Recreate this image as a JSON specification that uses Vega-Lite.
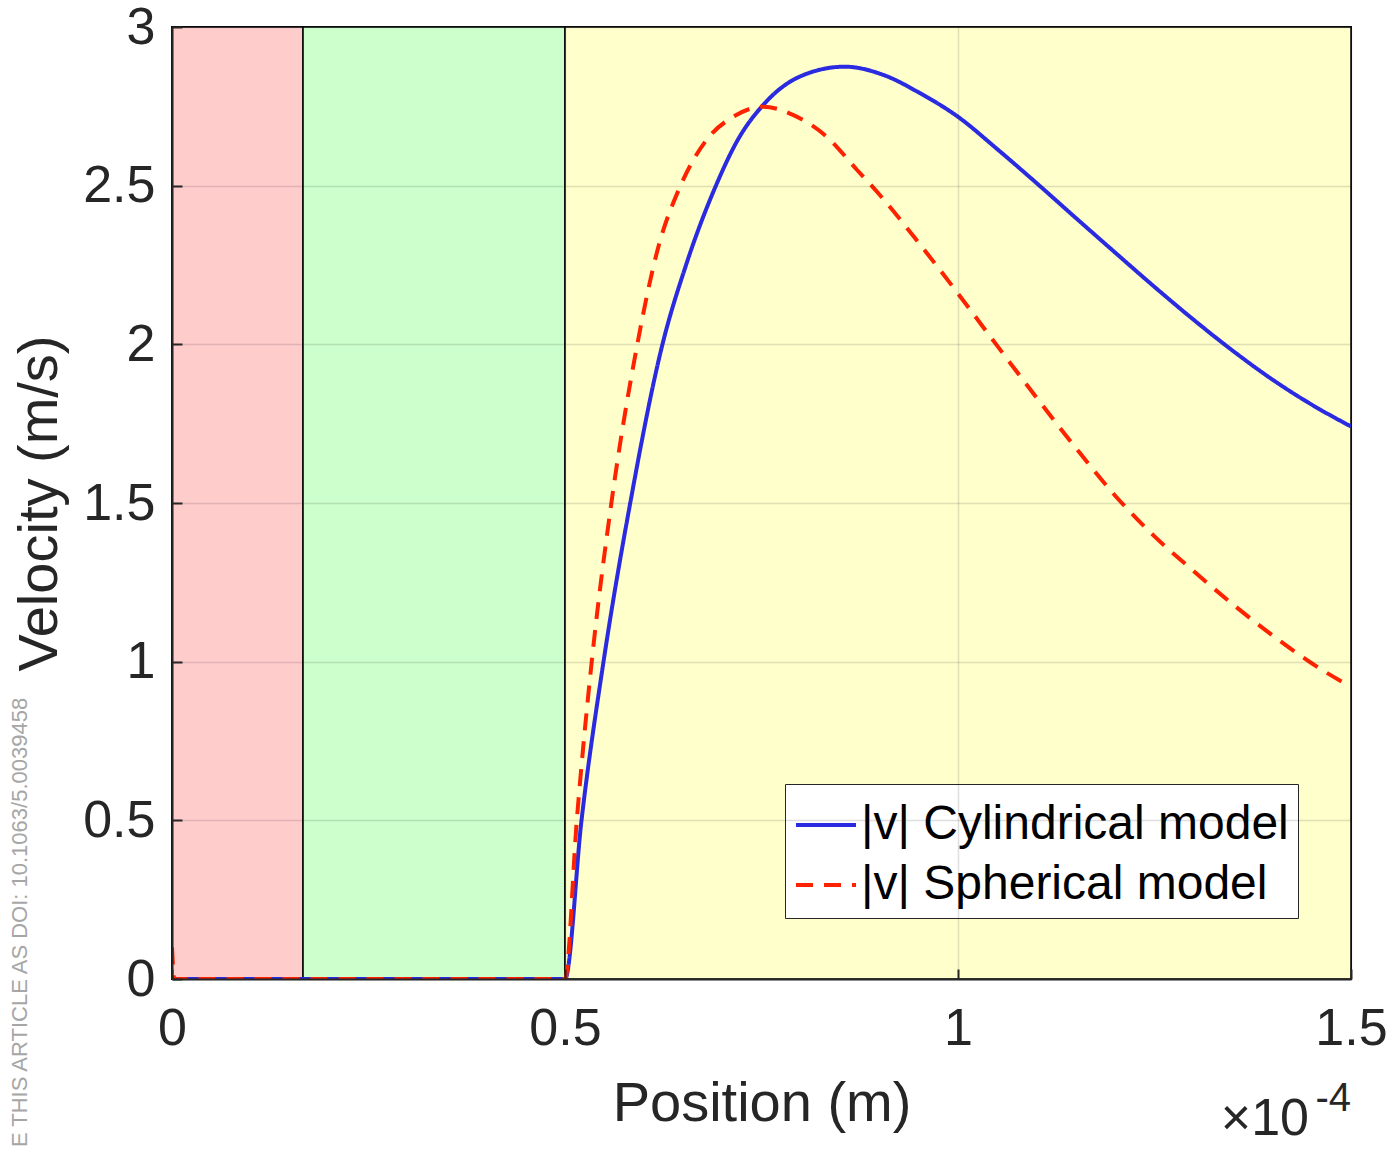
{
  "$schema": "https://vega.github.io/schema/vega-lite/v6.json",
  "width": 1179,
  "height": 952,
  "autosize": {"type": "none"},
  "padding": {"left": 172, "top": 27, "right": 45, "bottom": 170},
  "background": "white",
  "config": {
    "font": "Liberation Sans",
    "view": {"stroke": "#262626", "strokeWidth": 2},
    "axis": {
      "labelFont": "Liberation Sans",
      "titleFont": "Liberation Sans",
      "labelColor": "#262626",
      "titleColor": "#262626",
      "domainColor": "#262626",
      "domainWidth": 2,
      "tickColor": "#262626",
      "tickWidth": 2,
      "gridColor": "#262626",
      "gridOpacity": 0.15,
      "gridWidth": 1.5,
      "labelFontSize": 52,
      "titleFontSize": 56,
      "titleFontWeight": "normal",
      "labelBound": false,
      "labelFlush": false,
      "labelOverlap": false
    }
  },
  "datasets": {
    "regions": [
      {"start": 0, "end": 0.1667, "region": "r1"},
      {"start": 0.1667, "end": 0.5, "region": "r2"},
      {"start": 0.5, "end": 1.5, "region": "r3"}
    ],
    "curves": [
      {"x": 0, "v": 0, "series": "|v| Cylindrical model"},
      {"x": 0.5, "v": 0, "series": "|v| Cylindrical model"},
      {"x": 0.521, "v": 0.5, "series": "|v| Cylindrical model"},
      {"x": 0.549, "v": 1.0, "series": "|v| Cylindrical model"},
      {"x": 0.583, "v": 1.5, "series": "|v| Cylindrical model"},
      {"x": 0.624, "v": 2.0, "series": "|v| Cylindrical model"},
      {"x": 0.654, "v": 2.25, "series": "|v| Cylindrical model"},
      {"x": 0.692, "v": 2.5, "series": "|v| Cylindrical model"},
      {"x": 0.72, "v": 2.645, "series": "|v| Cylindrical model"},
      {"x": 0.752, "v": 2.754, "series": "|v| Cylindrical model"},
      {"x": 0.799, "v": 2.844, "series": "|v| Cylindrical model"},
      {"x": 0.856, "v": 2.875, "series": "|v| Cylindrical model"},
      {"x": 0.905, "v": 2.849, "series": "|v| Cylindrical model"},
      {"x": 0.952, "v": 2.791, "series": "|v| Cylindrical model"},
      {"x": 1.0, "v": 2.717, "series": "|v| Cylindrical model"},
      {"x": 1.05, "v": 2.615, "series": "|v| Cylindrical model"},
      {"x": 1.1, "v": 2.508, "series": "|v| Cylindrical model"},
      {"x": 1.15, "v": 2.398, "series": "|v| Cylindrical model"},
      {"x": 1.2, "v": 2.289, "series": "|v| Cylindrical model"},
      {"x": 1.25, "v": 2.181, "series": "|v| Cylindrical model"},
      {"x": 1.3, "v": 2.077, "series": "|v| Cylindrical model"},
      {"x": 1.35, "v": 1.979, "series": "|v| Cylindrical model"},
      {"x": 1.4, "v": 1.889, "series": "|v| Cylindrical model"},
      {"x": 1.45, "v": 1.81, "series": "|v| Cylindrical model"},
      {"x": 1.5, "v": 1.741, "series": "|v| Cylindrical model"},
      {"x": 0, "v": 0.1, "series": "|v| Spherical model"},
      {"x": 0.003, "v": 0, "series": "|v| Spherical model"},
      {"x": 0.5, "v": 0, "series": "|v| Spherical model"},
      {"x": 0.515, "v": 0.5, "series": "|v| Spherical model"},
      {"x": 0.534, "v": 1.0, "series": "|v| Spherical model"},
      {"x": 0.559, "v": 1.5, "series": "|v| Spherical model"},
      {"x": 0.592, "v": 2.0, "series": "|v| Spherical model"},
      {"x": 0.618, "v": 2.3, "series": "|v| Spherical model"},
      {"x": 0.647, "v": 2.5, "series": "|v| Spherical model"},
      {"x": 0.68, "v": 2.644, "series": "|v| Spherical model"},
      {"x": 0.714, "v": 2.717, "series": "|v| Spherical model"},
      {"x": 0.752, "v": 2.749, "series": "|v| Spherical model"},
      {"x": 0.79, "v": 2.723, "series": "|v| Spherical model"},
      {"x": 0.833, "v": 2.654, "series": "|v| Spherical model"},
      {"x": 0.871, "v": 2.551, "series": "|v| Spherical model"},
      {"x": 0.9, "v": 2.472, "series": "|v| Spherical model"},
      {"x": 0.95, "v": 2.32, "series": "|v| Spherical model"},
      {"x": 1.0, "v": 2.16, "series": "|v| Spherical model"},
      {"x": 1.05, "v": 1.995, "series": "|v| Spherical model"},
      {"x": 1.1, "v": 1.832, "series": "|v| Spherical model"},
      {"x": 1.15, "v": 1.673, "series": "|v| Spherical model"},
      {"x": 1.2, "v": 1.523, "series": "|v| Spherical model"},
      {"x": 1.25, "v": 1.395, "series": "|v| Spherical model"},
      {"x": 1.3, "v": 1.285, "series": "|v| Spherical model"},
      {"x": 1.35, "v": 1.18, "series": "|v| Spherical model"},
      {"x": 1.4, "v": 1.083, "series": "|v| Spherical model"},
      {"x": 1.45, "v": 0.995, "series": "|v| Spherical model"},
      {"x": 1.5, "v": 0.92, "series": "|v| Spherical model"}
    ]
  },
  "layer": [
    {
      "data": {"name": "regions"},
      "mark": {"type": "rect", "stroke": "#000000", "strokeWidth": 1.5},
      "encoding": {
        "x": {
          "field": "start", "type": "quantitative",
          "scale": {"domain": [0, 1.5], "nice": false, "zero": false},
          "axis": {
            "values": [0, 0.5, 1, 1.5], "format": ".1~f",
            "title": "Position (m)", "grid": true, "zindex": 1,
            "tickSize": -10, "labelPadding": 34, "titlePadding": 22
          }
        },
        "x2": {"field": "end"},
        "y": {"datum": 0, "type": "quantitative",
          "scale": {"domain": [0, 3], "nice": false},
          "axis": {
            "values": [0, 0.5, 1, 1.5, 2, 2.5, 3], "format": ".1~f",
            "title": "Velocity (m/s)", "grid": true, "zindex": 1,
            "tickSize": -10, "labelPadding": 27, "titlePadding": 14
          }
        },
        "y2": {"datum": 3},
        "fill": {
          "field": "region", "type": "nominal",
          "scale": {"domain": ["r1", "r2", "r3"], "range": ["#ffcccc", "#ccffcc", "#ffffcc"]},
          "legend": null
        }
      }
    },
    {
      "data": {"name": "curves"},
      "mark": {"type": "line", "strokeWidth": 4, "interpolate": "monotone", "clip": true},
      "encoding": {
        "x": {"field": "x", "type": "quantitative"},
        "y": {"field": "v", "type": "quantitative"},
        "color": {
          "field": "series", "type": "nominal",
          "scale": {"domain": ["|v| Cylindrical model", "|v| Spherical model"], "range": ["#2a2ae0", "#ff2200"]},
          "legend": {
            "title": null,
            "orient": "none",
            "legendX": 613,
            "legendY": 757,
            "symbolType": "stroke",
            "symbolSize": 3600,
            "symbolStrokeWidth": 4,
            "labelFontSize": 48,
            "labelFont": "Liberation Sans",
            "labelColor": "#000000",
            "labelOffset": 3,
            "labelLimit": 1000,
            "rowPadding": 4,
            "padding": 9,
            "strokeColor": "#262626",
            "fillColor": "#ffffff",
            "cornerRadius": 0
          }
        },
        "strokeDash": {
          "field": "series", "type": "nominal",
          "scale": {"domain": ["|v| Cylindrical model", "|v| Spherical model"], "range": [[1, 0], [17, 11]]},
          "legend": {
            "title": null,
            "orient": "none",
            "legendX": 613,
            "legendY": 757,
            "symbolType": "stroke",
            "symbolSize": 3600,
            "symbolStrokeWidth": 4,
            "labelFontSize": 48,
            "labelFont": "Liberation Sans",
            "labelColor": "#000000",
            "labelOffset": 3,
            "labelLimit": 1000,
            "rowPadding": 4,
            "padding": 9,
            "strokeColor": "#262626",
            "fillColor": "#ffffff",
            "cornerRadius": 0
          }
        }
      }
    },
    {
      "data": {"values": [{"label": "×10"}]},
      "mark": {"type": "text", "fontSize": 52, "align": "right", "baseline": "alphabetic", "color": "#262626", "dx": -42, "dy": 156, "clip": false},
      "encoding": {"text": {"field": "label"}, "x": {"datum": 1.5, "type": "quantitative"}, "y": {"datum": 0, "type": "quantitative"}}
    },
    {
      "data": {"values": [{"label": "-4"}]},
      "mark": {"type": "text", "fontSize": 40, "align": "right", "baseline": "alphabetic", "color": "#262626", "dx": 0, "dy": 132, "clip": false},
      "encoding": {"text": {"field": "label"}, "x": {"datum": 1.5, "type": "quantitative"}, "y": {"datum": 0, "type": "quantitative"}}
    },
    {
      "data": {"values": [{"label": "E THIS ARTICLE AS DOI: 10.1063/5.0039458"}]},
      "mark": {"type": "text", "fontSize": 22, "angle": 270, "align": "right", "baseline": "alphabetic", "color": "#a6a6a6", "clip": false},
      "encoding": {"text": {"field": "label"}, "x": {"datum": -0.185, "type": "quantitative"}, "y": {"datum": 0.886, "type": "quantitative"}}
    }
  ]
}
